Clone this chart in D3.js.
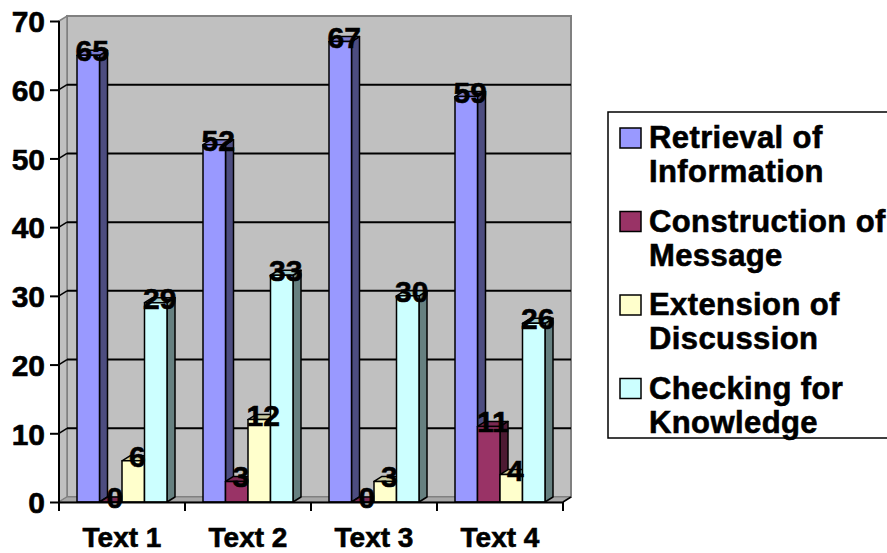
<!DOCTYPE html>
<html>
<head>
<meta charset="utf-8">
<script src="https://cdn.jsdelivr.net/npm/d3@7"></script>
<style>
  html, body { margin: 0; padding: 0; background: #ffffff; }
  svg { display: block; font-family: "Liberation Sans", Arial, sans-serif; font-weight: bold; }
  svg text { stroke: #000; stroke-width: 0.6px; }
</style>
</head>
<body>
<svg id="chart" width="887" height="553"></svg>
<script>
// Categories, series and values
const categories = ["Text 1", "Text 2", "Text 3", "Text 4"];
const seriesNames = ["Retrieval of Information", "Construction of Message", "Extension of Discussion", "Checking for Knowledge"];
const legendLines = [["Retrieval of", "Information"], ["Construction of", "Message"], ["Extension of", "Discussion"], ["Checking for", "Knowledge"]];
const retrieval = [65, 52, 67, 59];
const construction = [0, 3, 0, 11];
const extension = [6, 12, 3, 4];
const checking = [29, 33, 30, 26];
const yTicks = [0, 10, 20, 30, 40, 50, 60, 70];
const seriesColors = ["#9999ff", "#993366", "#ffffcc", "#ccffff"];

const seriesValues = [retrieval, construction, extension, checking];

const svg = d3.select("#chart");

// Plot geometry
const plotLeft = 59, plotRight = 563, plotBottom = 502, plotTop = 21;
const dx = 8, dy = -5; // depth offset of the 3D box

const x = d3.scaleBand().domain(categories).range([plotLeft, plotRight]).padding(0);
const xInner = d3.scaleBand().domain(seriesNames).range([18, 108]).padding(0);
const y = d3.scaleLinear().domain([0, 70]).range([plotBottom, plotTop]);

const shade = (c, k) => { const r = d3.rgb(c); return d3.rgb(r.r * k, r.g * k, r.b * k).formatHex(); };

// Walls
const walls = svg.append("g");
walls.append("polygon") // back wall
  .attr("points", [[plotLeft + dx, y(70) + dy], [plotRight + dx, y(70) + dy], [plotRight + dx, plotBottom + dy], [plotLeft + dx, plotBottom + dy]].join(" "))
  .attr("fill", "#c0c0c0").attr("stroke", "#808080").attr("stroke-width", 2);
walls.append("polygon") // side wall
  .attr("points", [[plotLeft, y(70)], [plotLeft + dx, y(70) + dy], [plotLeft + dx, plotBottom + dy], [plotLeft, plotBottom]].join(" "))
  .attr("fill", "#c0c0c0").attr("stroke", "#808080").attr("stroke-width", 1.5);

// Gridlines (back wall and side wall)
const grid = svg.append("g");
yTicks.filter(t => t > 0 && t < 70).forEach(t => {
  grid.append("line")
    .attr("x1", plotLeft + dx).attr("x2", plotRight + dx)
    .attr("y1", y(t) + dy).attr("y2", y(t) + dy)
    .attr("stroke", "#000").attr("stroke-width", 2);
  grid.append("line")
    .attr("x1", plotLeft).attr("x2", plotLeft + dx)
    .attr("y1", y(t)).attr("y2", y(t) + dy)
    .attr("stroke", "#000").attr("stroke-width", 1.5);
});

// Floor
svg.append("polygon")
  .attr("points", [[plotLeft, plotBottom], [plotRight, plotBottom], [plotRight + dx, plotBottom + dy], [plotLeft + dx, plotBottom + dy]].join(" "))
  .attr("fill", "#a8a8a8").attr("stroke", "#808080").attr("stroke-width", 1);
svg.append("line")
  .attr("x1", plotRight).attr("y1", plotBottom).attr("x2", plotRight + dx).attr("y2", plotBottom + dy)
  .attr("stroke", "#000").attr("stroke-width", 1.5);

// Bars
const bars = svg.append("g").attr("stroke", "#000").attr("stroke-width", 1.5).attr("stroke-linejoin", "round");
const labels = [];
categories.forEach((cat, i) => {
  seriesNames.forEach((s, j) => {
    const v = seriesValues[j][i];
    const bx = x(cat) + xInner(s);
    const w = xInner.bandwidth();
    const by = y(v);
    const col = seriesColors[j];
    const g = bars.append("g");
    g.append("polygon") // side
      .attr("points", [[bx + w, by], [bx + w + dx, by + dy], [bx + w + dx, plotBottom + dy], [bx + w, plotBottom]].join(" "))
      .attr("fill", shade(col, 0.5));
    g.append("polygon") // top
      .attr("points", [[bx, by], [bx + dx, by + dy], [bx + w + dx, by + dy], [bx + w, by]].join(" "))
      .attr("fill", shade(col, 0.8));
    g.append("rect") // front
      .attr("x", bx).attr("y", by).attr("width", w).attr("height", plotBottom - by)
      .attr("fill", col);
    labels.push({ v, cx: bx + w / 2 + dx / 2, cy: by + dy });
  });
});

// Axes
const yAxis = svg.append("g")
  .attr("transform", `translate(${plotLeft},0)`)
  .call(d3.axisLeft(y).tickValues(yTicks).tickSize(9).tickPadding(5).tickFormat(d3.format("d")));
yAxis.select(".domain").attr("stroke", "#000").attr("stroke-width", 2).attr("d", `M0,${plotTop}V${plotBottom}`);
yAxis.selectAll(".tick line").attr("stroke", "#000").attr("stroke-width", 2);
yAxis.selectAll(".tick text").attr("font-size", 30).attr("font-weight", "bold").attr("fill", "#000")
  .attr("font-family", "'Liberation Sans', Arial, sans-serif").attr("dy", "0.36em");

const xAxis = svg.append("g")
  .attr("transform", `translate(0,${plotBottom})`)
  .call(d3.axisBottom(x).tickSize(0).tickPadding(25));
xAxis.select(".domain").attr("stroke", "#000").attr("stroke-width", 2);
xAxis.selectAll(".tick text").attr("font-size", 28).attr("font-weight", "bold").attr("fill", "#000")
  .attr("font-family", "'Liberation Sans', Arial, sans-serif").attr("dy", "0.71em");
// category boundary ticks
const bounds = categories.map(c => x(c)).concat([x(categories[categories.length - 1]) + x.bandwidth()]);
xAxis.selectAll(".bound").data(bounds).join("line")
  .attr("x1", d => d).attr("x2", d => d).attr("y1", 0).attr("y2", 9)
  .attr("stroke", "#000").attr("stroke-width", 2);

// Value labels
svg.append("g").selectAll("text").data(labels).join("text")
  .attr("x", d => d.cx).attr("y", d => d.cy + 11)
  .attr("text-anchor", "middle").attr("font-size", 30).attr("fill", "#000")
  .text(d => d.v);

// Legend
const legend = svg.append("g");
legend.append("rect")
  .attr("x", 608).attr("y", 112).attr("width", 290).attr("height", 326)
  .attr("fill", "#fff").attr("stroke", "#000").attr("stroke-width", 1.5);
seriesNames.forEach((s, j) => {
  const base = 148 + j * 83.5;
  legend.append("rect")
    .attr("x", 620).attr("y", base - 20).attr("width", 21).attr("height", 20)
    .attr("fill", seriesColors[j]).attr("stroke", "#000").attr("stroke-width", 1.5);
  legendLines[j].forEach((ln, k) => {
    legend.append("text")
      .attr("x", 649).attr("y", base + k * 34)
      .attr("font-size", 31).attr("letter-spacing", 0.4).attr("fill", "#000")
      .text(ln);
  });
});
</script>
</body>
</html>
